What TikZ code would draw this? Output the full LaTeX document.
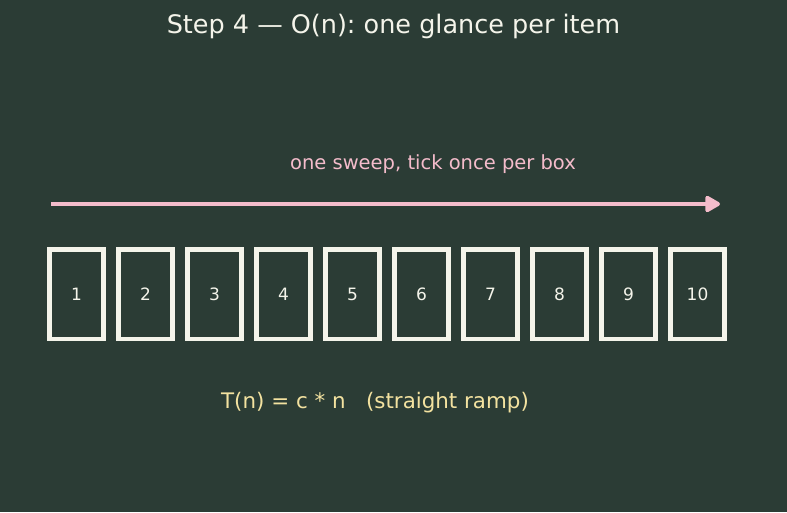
\documentclass[tikz,border=0pt]{standalone}
\usepackage{fontspec}
\setmainfont{DejaVu Sans}
\usetikzlibrary{arrows.meta}
\definecolor{bg}{HTML}{2B3C35}
\definecolor{boxline}{HTML}{F4F4EA}
\definecolor{pinkc}{HTML}{F4BCCB}
\definecolor{yell}{HTML}{F3E2A0}
\frenchspacing
\begin{document}
\begin{tikzpicture}[x=1pt,y=1pt,
  itembox/.style={draw=boxline, line width=4.2pt, minimum width=54pt, minimum height=89.5pt, inner sep=0pt, text=boxline, font=\fontsize{17}{19}\selectfont},
  sweep/.style={draw=pinkc, line width=4pt, -{Triangle[round,length=17pt,width=18pt]}}]
\fill[bg] (0,0) rectangle (787,512);
\useasboundingbox (0,0) rectangle (787,512);
\node[text=boxline, font=\fontsize{25.5}{28}\selectfont] (title) at (393.5,486) {Step 4 — O(n): one glance per item};
\node[text=pinkc, font=\fontsize{19.5}{22}\selectfont] (lbl) at (433,347.5) {one sweep, tick once per box};
\coordinate (as) at (51,308);
\coordinate (ae) at (720,308);
\draw[sweep] (as) -- (ae);
\foreach \i in {1,...,10} {
  \node[itembox] (b\i) at ({76.5+69*(\i-1)},217.8) {\i};
}
\node[text=yell, font=\fontsize{21.4}{24}\selectfont] (formula) at (375,109.5) {T(n) = c * n \ \ (straight ramp)};
\end{tikzpicture}
\end{document}
